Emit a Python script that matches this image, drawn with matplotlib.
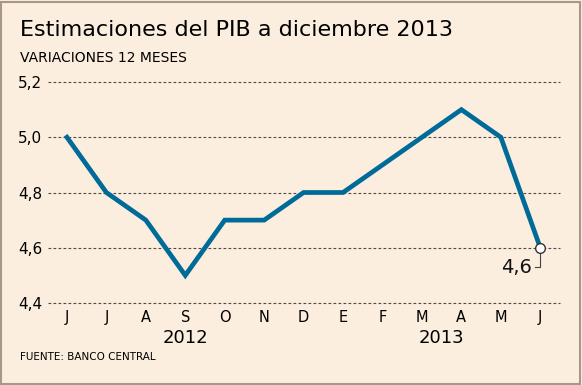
import matplotlib
matplotlib.use('Agg')
import matplotlib.pyplot as plt
from matplotlib.patches import Rectangle

# data
months = ['J', 'J', 'A', 'S', 'O', 'N', 'D', 'E', 'F', 'M', 'A', 'M', 'J']
pib = [5.0, 4.8, 4.7, 4.5, 4.7, 4.7, 4.8, 4.8, 4.9, 5.0, 5.1, 5.0, 4.6]
yticks = [4.4, 4.6, 4.8, 5.0, 5.2]
years = ['2012', '2013']
year_pos = [3, 9.5]

bg = '#fbeede'
blue = '#006b98'

fig = plt.figure(figsize=(5.82, 3.85), dpi=100, facecolor=bg)
ax = fig.add_axes([48/582, 1-303/385, (560-48)/582, (303-82)/385])
ax.set_facecolor(bg)

x = list(range(len(months)))
for v in yticks:
    ax.axhline(v, color='#4a4a4a', lw=0.8, ls=(0, (2.5, 2)), zorder=1, clip_on=False)

ax.plot(x, pib, color=blue, lw=3.4, solid_joinstyle='miter', zorder=3)
ax.plot(x[-1], pib[-1], 'o', ms=7, mfc='white', mec='#333333', mew=1.0, zorder=4)

# leader line for the last value
ax.plot([x[-1], x[-1], x[-1]-0.13], [pib[-1]-0.01, 4.53, 4.53], color='#444444', lw=0.8, zorder=2)
ax.text(x[-1]-0.22, 4.53, '4,6', ha='right', va='center', fontsize=14, color='#111111')

ax.set_xlim(-0.48, 12.5)
ax.set_ylim(4.4, 5.2)
ax.set_xticks(x)
ax.set_xticklabels(months, fontsize=10.5)
ax.set_yticks(yticks)
ax.set_yticklabels([f'{v:.1f}'.replace('.', ',') for v in yticks], fontsize=11)
ax.tick_params(length=0, pad=4)
ax.tick_params(axis='x', pad=5)
for s in ax.spines.values():
    s.set_visible(False)

for yr, p in zip(years, year_pos):
    ax.text(p, -0.16, yr, transform=ax.get_xaxis_transform(), ha='center', va='center', fontsize=13)

fig.text(20/582, 1-30/385, 'Estimaciones del PIB a diciembre 2013', fontsize=16, va='center', ha='left')
fig.text(20/582, 1-58/385, 'VARIACIONES 12 MESES', fontsize=10, va='center', ha='left')
fig.text(20/582, 1-357/385, 'FUENTE: BANCO CENTRAL', fontsize=7.5, va='center', ha='left')

fig.patches.append(Rectangle((0.002, 0.003), 0.995, 0.993, transform=fig.transFigure,
                             fill=False, ec='#a89686', lw=1.5))

fig.savefig('out.png', dpi=100, facecolor=bg)
